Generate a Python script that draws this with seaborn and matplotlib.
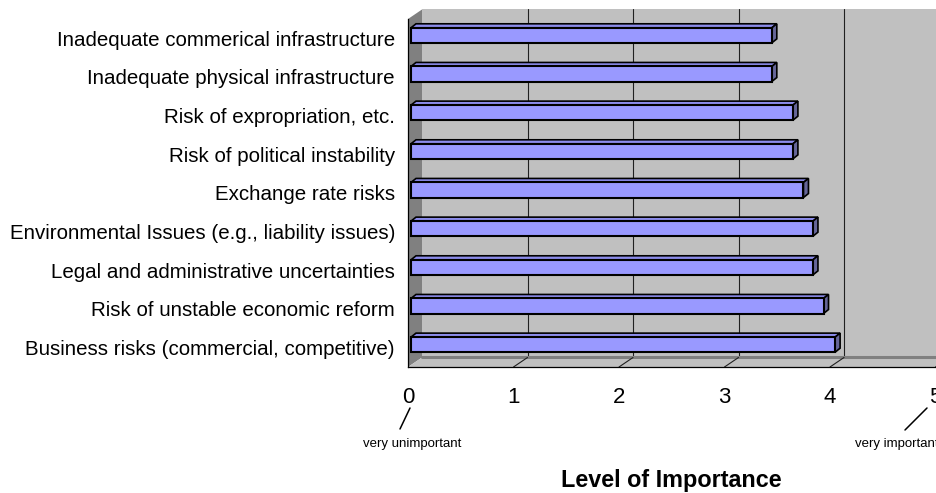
import numpy as np
import seaborn as sns
import matplotlib
matplotlib.use('Agg')
import matplotlib.pyplot as plt
from matplotlib.patches import Polygon
from matplotlib.lines import Line2D

# data
labels = ['Inadequate commerical infrastructure',
          'Inadequate physical infrastructure',
          'Risk of expropriation, etc.',
          'Risk of political instability',
          'Exchange rate risks',
          'Environmental Issues (e.g., liability issues)',
          'Legal and administrative uncertainties',
          'Risk of unstable economic reform',
          'Business risks (commercial, competitive)']
scores = [3.42, 3.42, 3.62, 3.62, 3.72, 3.81, 3.81, 3.91, 4.02]
xticks = [0, 1, 2, 3, 4, 5]

sns.set_style('white')
plt.rcParams['font.family'] = ['Liberation Sans', 'DejaVu Sans']
for k in ['text.color', 'axes.labelcolor', 'xtick.color', 'ytick.color']:
    plt.rcParams[k] = 'black'

W, H = 937, 493
fig = plt.figure(figsize=(W / 100, H / 100), dpi=100)
# front plane of the 3d box, in pixels
left, right, top, bottom = 408, 935.5, 19, 367
ax = fig.add_axes([left / W, 1 - bottom / H, (right - left) / W, (bottom - top) / H])

n = len(labels)
sns.barplot(x=scores, y=labels, orient='h', color='#9999FF', edgecolor='black',
            linewidth=1.5, width=0.39, saturation=1, ax=ax, zorder=3)
ax.set_xlim(0, 5)
ax.set_ylim(n - 0.5, -0.5)

# pixel -> data units
XPX = 5 / (right - left)
YPX = n / (bottom - top)

def off(x, y, dx, dy):
    return (x + dx * XPX, y - dy * YPX)

D = (14, 9.5)  # depth of the walls
y0, y1 = -0.5, n - 0.5

# back wall
ax.add_patch(Polygon([off(0, y0, *D), off(5, y0, *D), off(5, y1, *D), off(0, y1, *D)],
                     closed=True, facecolor='#C0C0C0', edgecolor='none', zorder=0.5, clip_on=False))
for t in xticks[1:-1]:
    ax.add_line(Line2D([off(t, y0, *D)[0]] * 2, [off(t, y0, *D)[1], off(t, y1, *D)[1]],
                       color='#202020', lw=0.8, zorder=0.6, clip_on=False))
# side wall
ax.add_patch(Polygon([(0, y0), (0, y1), off(0, y1, *D), off(0, y0, *D)],
                     closed=True, facecolor='#808080', edgecolor='none', zorder=0.7, clip_on=False))
# floor
ax.add_patch(Polygon([(0, y1), (5, y1), off(5, y1, *D), off(0, y1, *D)],
                     closed=True, facecolor='#C0C0C0', edgecolor='none', zorder=0.7, clip_on=False))
ax.add_line(Line2D([off(0, y1, *D)[0], off(5.2, y1, *D)[0]], [off(0, y1, *D)[1]] * 2,
                   color='#808080', lw=2.2, zorder=0.75, clip_on=False))
for t in xticks[1:]:
    p0, p1 = (t, y1), off(t, y1, *D)
    ax.add_line(Line2D([p0[0], p1[0]], [p0[1], p1[1]], color='#202020', lw=0.8,
                       zorder=0.8, clip_on=False))

# bars sit a bit inside the box, give them depth
B = (5, 4)
for p in ax.patches[:n]:
    p.set_x(p.get_x() + 3 * XPX)
    p.set_y(p.get_y() - 3 * YPX)
    bx0, by0 = p.get_x(), p.get_y()
    bx1, by1 = bx0 + p.get_width(), by0 + p.get_height()
    ax.add_patch(Polygon([(bx0, by0), (bx1, by0), off(bx1, by0, *B), off(bx0, by0, *B)],
                         closed=True, facecolor='#8C8CEB', edgecolor='black', lw=1.2,
                         zorder=2.5, clip_on=False))
    ax.add_patch(Polygon([(bx1, by0), (bx1, by1), off(bx1, by1, *B), off(bx1, by0, *B)],
                         closed=True, facecolor='#666699', edgecolor='black', lw=1.2,
                         zorder=2.5, clip_on=False))

for s in ['top', 'right']:
    ax.spines[s].set_visible(False)
for s in ['left', 'bottom']:
    ax.spines[s].set_color('black')
    ax.spines[s].set_linewidth(0.9)
    ax.spines[s].set_zorder(4)

ax.set_xticks(xticks)
ax.set_xticklabels([str(t) for t in xticks], fontsize=16)
ax.tick_params(axis='x', length=3.6, width=0.8, direction='out', pad=10.5, color='black')
ax.set_yticks(np.arange(-0.5, n, 1), minor=True)
ax.tick_params(axis='y', which='major', length=0, pad=9.4, labelsize=14.75)
ax.tick_params(axis='y', which='minor', length=6, width=0.8, direction='out', color='black')
ax.set_ylabel('')
ax.set_xlabel('Level of Importance', fontsize=16.8, fontweight='bold', labelpad=44)
ax.patch.set_visible(False)

# end labels with leader lines
fig.add_artist(Line2D([410 / W, 400 / W], [1 - 408 / H, 1 - 429 / H], color='black', lw=1.1))
fig.add_artist(Line2D([927 / W, 905 / W], [1 - 408 / H, 1 - 430 / H], color='black', lw=1.1))
fig.text(412 / W, 1 - 444 / H, 'very unimportant', fontsize=9.5, ha='center', va='center')
fig.text(855 / W, 1 - 444 / H, 'very important', fontsize=9.5, ha='left', va='center')

fig.savefig('out.png', dpi=100, facecolor='white')
